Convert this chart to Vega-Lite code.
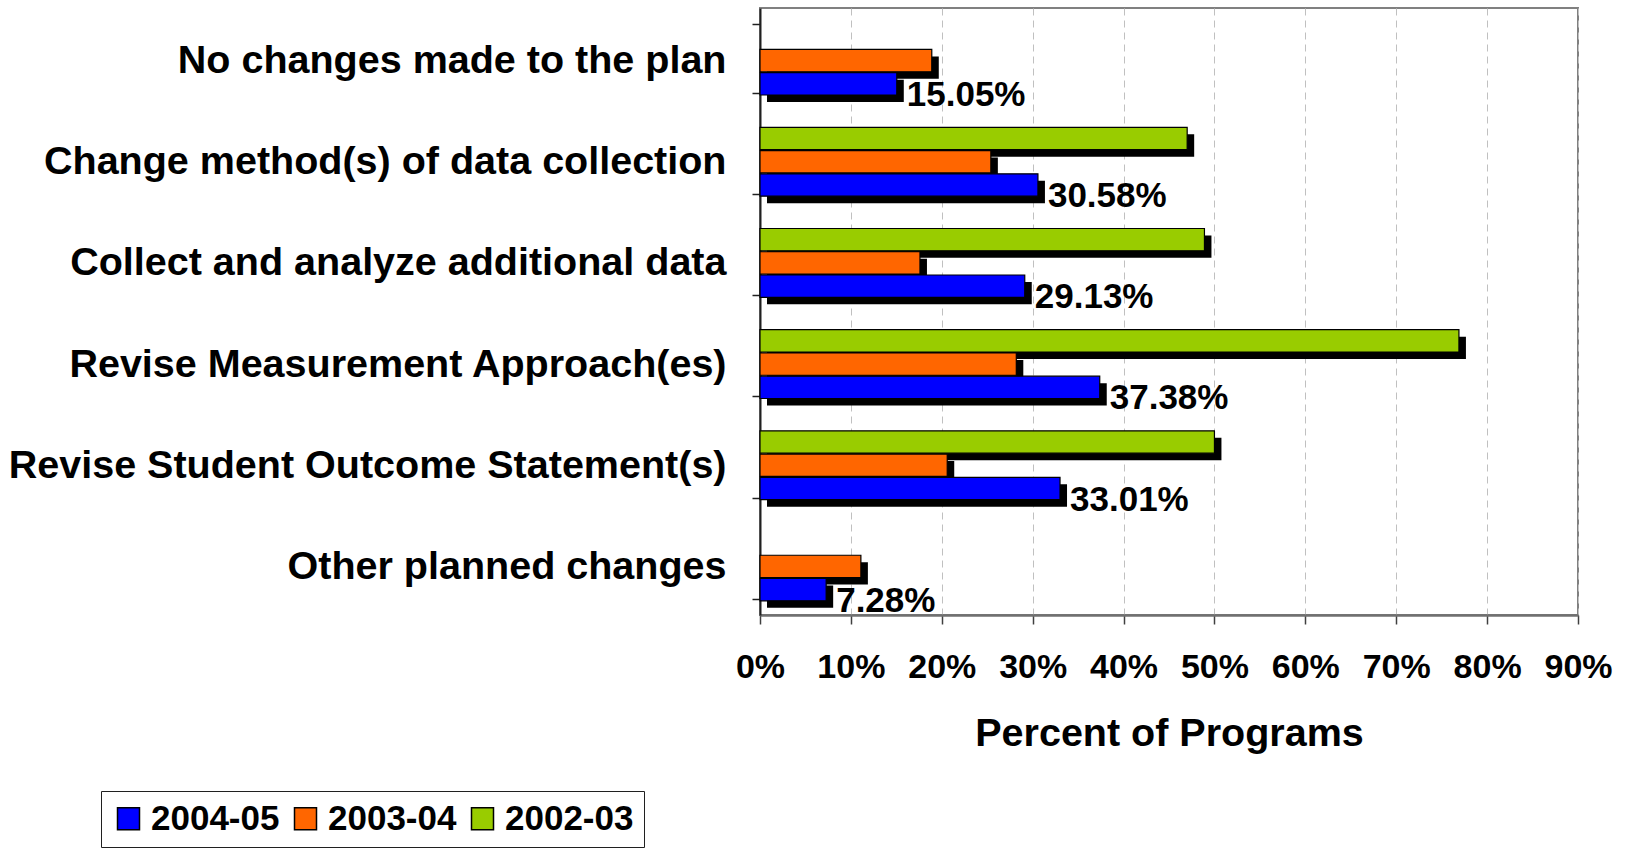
{
  "$schema": "https://vega.github.io/schema/vega-lite/v6.json",
  "width": 818,
  "height": 607,
  "autosize": {"type": "none"},
  "padding": {"left": 760, "top": 8, "right": 52, "bottom": 234},
  "background": "white",
  "config": {
    "font": "Liberation Sans",
    "view": {"stroke": "#808080", "strokeWidth": 2}
  },
  "data": {
    "values": [
      {"category": "No changes made to the plan", "series": "2004-05", "value": 0.1505},
      {"category": "No changes made to the plan", "series": "2003-04", "value": 0.189},
      {"category": "Change method(s) of data collection", "series": "2004-05", "value": 0.3058},
      {"category": "Change method(s) of data collection", "series": "2003-04", "value": 0.254},
      {"category": "Change method(s) of data collection", "series": "2002-03", "value": 0.47},
      {"category": "Collect and analyze additional data", "series": "2004-05", "value": 0.2913},
      {"category": "Collect and analyze additional data", "series": "2003-04", "value": 0.176},
      {"category": "Collect and analyze additional data", "series": "2002-03", "value": 0.489},
      {"category": "Revise Measurement Approach(es)", "series": "2004-05", "value": 0.3738},
      {"category": "Revise Measurement Approach(es)", "series": "2003-04", "value": 0.282},
      {"category": "Revise Measurement Approach(es)", "series": "2002-03", "value": 0.769},
      {"category": "Revise Student Outcome Statement(s)", "series": "2004-05", "value": 0.3301},
      {"category": "Revise Student Outcome Statement(s)", "series": "2003-04", "value": 0.206},
      {"category": "Revise Student Outcome Statement(s)", "series": "2002-03", "value": 0.5},
      {"category": "Other planned changes", "series": "2004-05", "value": 0.0728},
      {"category": "Other planned changes", "series": "2003-04", "value": 0.111}
    ]
  },
  "encoding": {
    "y": {
      "field": "category",
      "type": "nominal",
      "sort": null,
      "scale": {"paddingInner": 0.32, "paddingOuter": 0.16},
      "axis": {
        "title": null,
        "tickBand": "extent",
        "labelFontSize": 39.5,
        "labelFontWeight": "bold",
        "labelColor": "black",
        "labelLimit": 0,
        "labelPadding": 26,
        "labelOffset": 2,
        "tickSize": 8,
        "tickColor": "#202020",
        "tickWidth": 1.5,
        "domainColor": "#202020",
        "domainWidth": 2,
        "grid": false
      }
    },
    "x": {
      "field": "value",
      "type": "quantitative",
      "scale": {"domain": [0, 0.9], "nice": false},
      "axis": {
        "title": "Percent of Programs",
        "titleFontSize": 39.5,
        "titleFontWeight": "bold",
        "titleColor": "black",
        "titlePadding": 30,
        "values": [0, 0.1, 0.2, 0.3, 0.4, 0.5, 0.6, 0.7, 0.8, 0.9],
        "format": ".0%",
        "labelFontSize": 34,
        "labelFontWeight": "bold",
        "labelColor": "black",
        "labelPadding": 26,
        "labelFlush": false,
        "labelOverlap": false,
        "tickSize": 9,
        "tickColor": "#404040",
        "tickWidth": 1.5,
        "domainColor": "#707070",
        "domainWidth": 2.5,
        "grid": true,
        "gridColor": "#c0c0c0",
        "gridDash": [7, 5],
        "gridWidth": 1
      }
    }
  },
  "layer": [
    {
      "mark": {"type": "bar", "color": "black", "xOffset": 7, "x2Offset": 7},
      "encoding": {
        "yOffset": {
          "field": "series",
          "type": "nominal",
          "scale": {"domain": ["2002-03", "2003-04", "2004-05"], "range": [9, 77.8], "paddingInner": 0.04, "paddingOuter": 0}
        }
      }
    },
    {
      "mark": {"type": "bar", "stroke": "black", "strokeWidth": 1.2},
      "encoding": {
        "yOffset": {
          "field": "series",
          "type": "nominal",
          "scale": {"domain": ["2002-03", "2003-04", "2004-05"], "range": [2, 70.8], "paddingInner": 0.04, "paddingOuter": 0}
        },
        "color": {
          "field": "series",
          "type": "nominal",
          "scale": {"domain": ["2004-05", "2003-04", "2002-03"], "range": ["#0000FF", "#FF6600", "#99CC00"]},
          "legend": {
            "title": null,
            "orient": "none",
            "direction": "horizontal",
            "legendX": -659,
            "legendY": 783,
            "labelFontSize": 35,
            "labelFontWeight": "bold",
            "labelColor": "black",
            "symbolType": "square",
            "symbolSize": 484,
            "symbolStrokeColor": "black",
            "symbolStrokeWidth": 1.5,
            "labelOffset": 5,
            "columnPadding": 8,
            "padding": 10,
            "strokeColor": "#202020",
            "fillColor": "white"
          }
        }
      }
    },
    {
      "transform": [{"filter": "datum.series === '2004-05'"}],
      "mark": {"type": "text", "align": "left", "baseline": "middle", "dx": 10, "dy": 0, "fontSize": 35, "fontWeight": "bold", "color": "black"},
      "encoding": {
        "yOffset": {
          "field": "series",
          "type": "nominal",
          "scale": {"domain": ["2002-03", "2003-04", "2004-05"], "range": [2, 70.8], "paddingInner": 0.04, "paddingOuter": 0}
        },
        "text": {"field": "value", "type": "quantitative", "format": ".2%"}
      }
    }
  ],
  "resolve": {"scale": {"yOffset": "independent"}}
}
